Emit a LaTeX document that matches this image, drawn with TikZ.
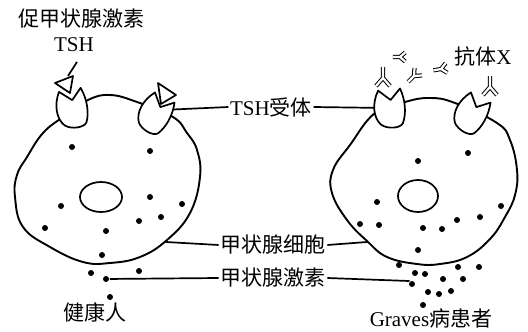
\documentclass[tikz,border=0pt]{standalone}
\usepackage{fontspec}
\setmainfont{Liberation Serif}
\newfontfamily\cjk{Noto Sans CJK SC}
\newcommand\zh[1]{{\cjk #1}}

\begin{document}
\begin{tikzpicture}[x=1pt, y=-1pt, line width=1.7pt, line join=round,
	every node/.style={font=\fontsize{21}{24}\selectfont, inner sep=1pt},
	dot/.style={circle, fill, inner sep=0pt, minimum size=6pt},
	membrane/.style={line width=1.9pt},
	abline/.style={draw, double=white, double distance=2.2pt, line width=1pt},
	receptor/.pic={\draw[fill=white] (-11,-37) .. controls (-18,-24) and (-17,-10) .. (-10,-3) .. controls (-4,2) and (9,2) .. (12,-3) .. controls (16,-12) and (16,-26) .. (11,-38) -- (1,-27) -- cycle;},
	antibody/.pic={\path[abline] (0,0) -- (0,11) (0,0) -- (-7,-8) (0,0) -- (7,-8);}]
	\useasboundingbox (0,0) rectangle (528,332);

	% the two cells
	\draw[membrane] plot[smooth cycle, tension=0.7] coordinates {(110,95) (137,102) (173,117) (187,133) (197,150) (200,177) (190,213) (167,240) (140,257) (110,263) (83,262) (50,247) (23,227) (15,197) (17,175) (27,157) (43,133) (63,117) (88,100)};
	\draw[membrane] plot[smooth cycle, tension=0.7] coordinates {(430,98) (455,103) (497,123) (510,140) (517,170) (515,195) (505,217) (490,239) (467,257) (440,264) (417,264) (387,257) (367,241) (347,220) (332,193) (333,170) (350,145) (375,113) (405,102)};
	\draw (101,197) ellipse [x radius=21, y radius=15];
	\draw (418,196) ellipse [x radius=20, y radius=16];

	% labels
	\node (tsh) at (82,19) {\zh{促甲状腺激素}};
	\node (tshname) at (74,45) {TSH};
	\node (rec) at (271,107) {TSH\zh{受体}};
	\node (cell) at (273,245) {\zh{甲状腺细胞}};
	\node (horm) at (273,278) {\zh{甲状腺激素}};
	\node (abx) at (483,56) {\zh{抗体}X};
	\node (healthy) at (95,312) {\zh{健康人}};
	\node (graves) at (431,318) {Graves\zh{病患者}};

	\coordinate (recL) at (162,110);
	\coordinate (recR) at (386,108);
	\coordinate (cellL) at (166,242);
	\coordinate (cellR) at (367,242);
	\coordinate (hormR) at (409,281);
	\coordinate (tship) at (68,76);
	\draw (rec.west) -- (recL);
	\draw (rec.east) -- (recR);
	\draw (cell.west) -- (cellL);
	\draw (cell.east) -- (cellR);
	\draw (tshname.south) ++(3,8) -- (tship);

	% receptors on the membrane
	\pic[rotate=8] at (75,127) {receptor};
	\pic[rotate=-30] at (146,130) {receptor};
	\pic[rotate=3] at (391,127) {receptor};
	\pic[rotate=-30] at (462,130) {receptor};

	% TSH bound to the healthy cell
	\draw[fill=white] (55,83) -- (73,76) -- (70,93) -- cycle;
	\draw[fill=white] (158,83) -- (176,95) -- (161,104) -- cycle;

	% antibody X
	\pic[rotate=180] at (383,78) {antibody};
	\pic[rotate=180] at (490,87) {antibody};
	\pic[rotate=-90, scale=0.65] at (400,57) {antibody};
	\pic[rotate=-45, scale=0.75] at (414,76) {antibody};
	\pic[rotate=-80, scale=0.7] at (441,69) {antibody};

	% thyroid hormone
	\foreach \p [count=\i] in {(72,147), (150,151), (150,197), (182,204), (61,206), (161,217), (139,221), (45,228), (106,231), (102,255), (91,273), (139,271), (110,297)}
		\node[dot] (a\i) at \p {};
	\foreach \p [count=\i] in {(468,153), (418,161), (377,202), (501,206), (480,217), (457,220), (360,224), (379,225), (423,228), (442,229), (418,250), (399,265), (458,267), (479,267), (415,273), (425,274), (443,279), (463,279), (428,292), (439,294), (451,291), (423,305)}
		\node[dot] (b\i) at \p {};
	\node[dot] (hL) at (106,279) {};
	\node[dot] (hR) at (412,284) {};
	\draw (horm.west) -- (hL);
	\draw (horm.east) -- (hormR) -- (hR);
\end{tikzpicture}
\end{document}
